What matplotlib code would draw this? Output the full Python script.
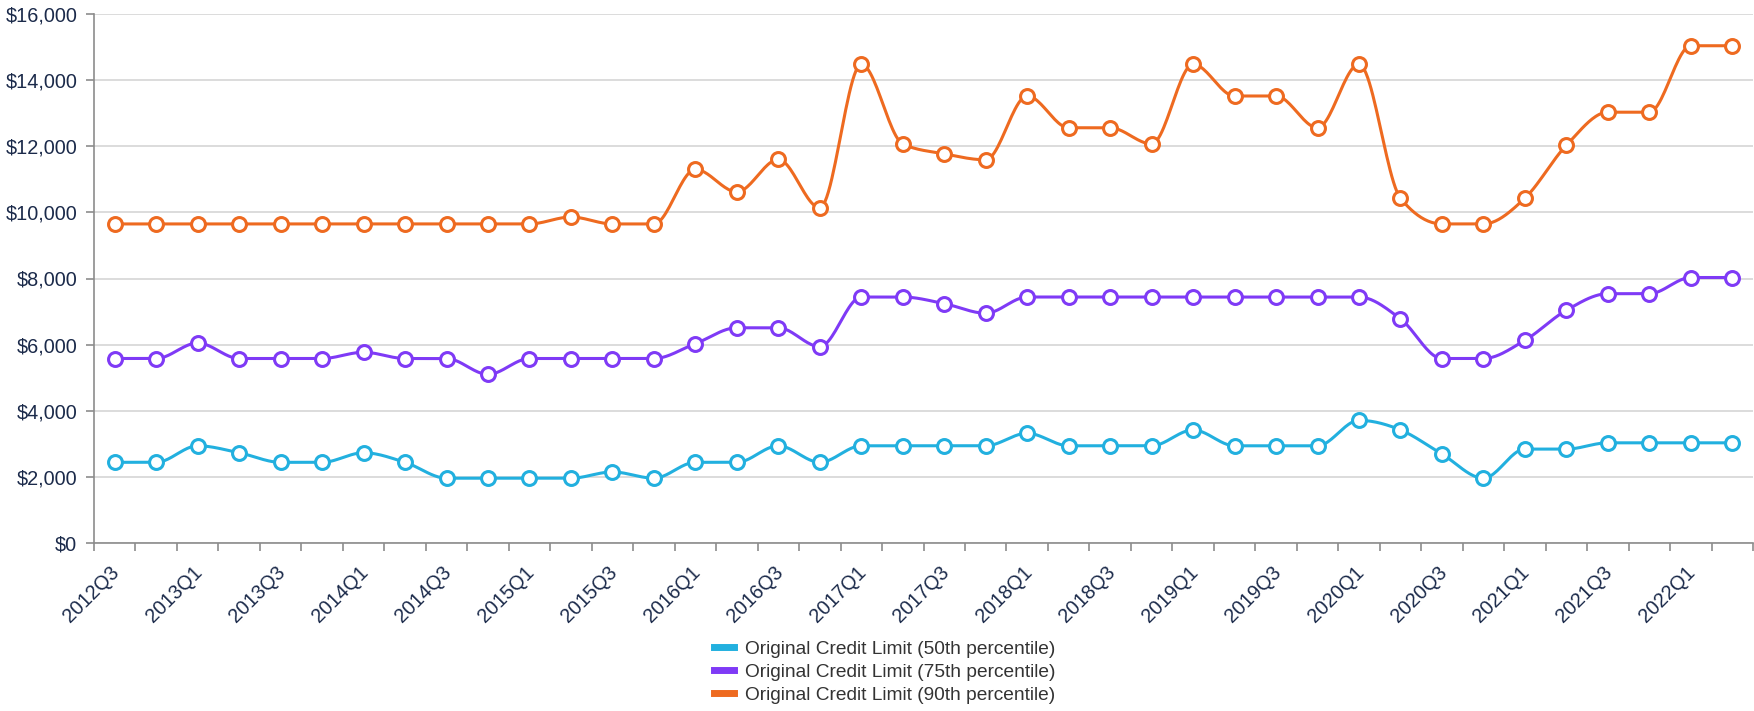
import numpy as np
import matplotlib.pyplot as plt
import matplotlib.transforms as mtransforms
from matplotlib.lines import Line2D
from matplotlib.ticker import FuncFormatter

plt.rcParams['font.family'] = ['Liberation Sans', 'DejaVu Sans']

# quarters 2012Q3 .. 2022Q2
quarters = []
for yr in range(2012, 2023):
    for q in range(1, 5):
        quarters.append(f"{yr}Q{q}")
quarters = quarters[2:42]

p50 = [2440, 2440, 2940, 2730, 2440, 2440, 2730, 2440, 1960, 1960,
       1960, 1960, 2150, 1960, 2440, 2440, 2940, 2440, 2940, 2940,
       2940, 2940, 3320, 2940, 2940, 2940, 3420, 2940, 2940, 2940,
       3710, 3420, 2690, 1960, 2840, 2840, 3030, 3030, 3030, 3030]
p75 = [5580, 5580, 6050, 5580, 5580, 5580, 5770, 5580, 5580, 5100,
       5580, 5580, 5580, 5580, 6030, 6510, 6510, 5940, 7440, 7440,
       7240, 6950, 7440, 7440, 7440, 7440, 7440, 7440, 7440, 7440,
       7440, 6780, 5580, 5580, 6130, 7040, 7540, 7540, 8030, 8030]
p90 = [9650, 9650, 9650, 9650, 9650, 9650, 9650, 9650, 9650, 9650,
       9650, 9860, 9650, 9650, 11300, 10620, 11600, 10140, 14480, 12070,
       11770, 11590, 13520, 12560, 12560, 12070, 14480, 13520, 13520, 12560,
       14480, 10430, 9650, 9650, 10430, 12030, 13030, 13030, 15040, 15040]

labels = ["Original Credit Limit (50th percentile)",
          "Original Credit Limit (75th percentile)",
          "Original Credit Limit (90th percentile)"]
colors = ["#22B0DF", "#7F3AF6", "#EE6A20"]


def monotone(y, n=24):
    # monotone cubic (d3 curveMonotoneX style) through the points
    y = np.asarray(y, float)
    x = np.arange(len(y), dtype=float)
    h = np.diff(x)
    s = np.diff(y) / h
    m = np.zeros_like(y)
    for i in range(1, len(y) - 1):
        p = (s[i - 1] * h[i] + s[i] * h[i - 1]) / (h[i - 1] + h[i])
        m[i] = (np.sign(s[i - 1]) + np.sign(s[i])) * min(abs(s[i - 1]), abs(s[i]), 0.5 * abs(p))
    m[0] = (3 * s[0] - m[1]) / 2
    m[-1] = (3 * s[-1] - m[-2]) / 2
    xs, ys = [], []
    t = np.linspace(0, 1, n, endpoint=False)
    for i in range(len(y) - 1):
        dx = h[i] / 3
        b0, b1, b2, b3 = y[i], y[i] + dx * m[i], y[i + 1] - dx * m[i + 1], y[i + 1]
        xs.extend(x[i] + t * h[i])
        ys.extend((1 - t) ** 3 * b0 + 3 * (1 - t) ** 2 * t * b1
                  + 3 * (1 - t) * t ** 2 * b2 + t ** 3 * b3)
    xs.append(x[-1]); ys.append(y[-1])
    return np.array(xs), np.array(ys)


W, H = 1754, 711
fig = plt.figure(figsize=(W / 100, H / 100), dpi=100)
ax = fig.add_axes([94 / W, 1 - 543 / H, (1753 - 94) / W, (543 - 14) / H])

x = np.arange(len(quarters))
for vals, c in zip([p50, p75, p90], colors):
    sx, sy = monotone(vals)
    ax.plot(sx, sy, color=c, lw=2.2, zorder=3, solid_capstyle='round')
    ax.plot(x, vals, 'o', ms=10, mfc='white', mec=c, mew=2.2, zorder=4)

ax.set_xlim(-0.5, len(quarters) - 0.5)
ax.set_ylim(0, 16000)
ax.set_yticks(np.arange(0, 16001, 2000))
ax.yaxis.set_major_formatter(FuncFormatter(lambda v, p: f"${v:,.0f}"))
ax.yaxis.grid(True, color='#D9D9D9', lw=1.3)
ax.set_axisbelow(True)

ax.set_xticks(x[::2])
ax.set_xticklabels(quarters[::2], rotation=45, ha='right', va='top',
                   rotation_mode='anchor')
ax.set_xticks(np.arange(-0.5, len(quarters), 1), minor=True)
ax.tick_params(axis='x', which='major', length=0, pad=14)
ax.tick_params(axis='x', which='minor', length=6, color='#8C8C8C', width=1.2)
ax.tick_params(axis='y', length=6, color='#8C8C8C', width=1.2, pad=6)
ax.tick_params(labelsize=14.3, labelcolor='#1B2A4A')

shift = mtransforms.ScaledTranslation(-5 / 100, 0, fig.dpi_scale_trans)
for lab in ax.get_xticklabels():
    lab.set_transform(lab.get_transform() + shift)

for s in ['top', 'right']:
    ax.spines[s].set_visible(False)
for s in ['left', 'bottom']:
    ax.spines[s].set_color('#8C8C8C')
    ax.spines[s].set_linewidth(1.2)

handles = [Line2D([0], [0], color=c, lw=5) for c in colors]
fig.legend(handles, labels, loc='center', bbox_to_anchor=(885 / W, 1 - 672 / H),
           frameon=False, fontsize=13.8, labelcolor='#333333', handlelength=1.0,
           handletextpad=0.6, labelspacing=0.3, borderpad=0)

fig.savefig('out.png', dpi=100)
